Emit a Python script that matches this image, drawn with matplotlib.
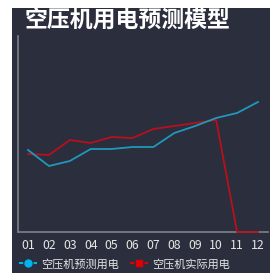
import matplotlib
matplotlib.use('Agg')
import matplotlib.pyplot as plt
from matplotlib.patches import Rectangle

plt.rcParams['font.family'] = ['Noto Sans CJK SC', 'DejaVu Sans']

MONTHS = ['01', '02', '03', '04', '05', '06', '07', '08', '09', '10', '11', '12']
PREDICTED = [820, 660, 710, 830, 830, 850, 850, 990, 1060, 1140, 1190, 1300]
ACTUAL = [780, 770, 920, 890, 950, 940, 1030, 1060, 1090, 1120, 0, 0]

TITLE = '空压机用电预测模型'
PRED_LABEL = '空压机预测用电'
ACTUAL_LABEL = '空压机实际用电'

BG = '#2b2e3c'
BLUE_LINE = '#1f98bb'
BLUE_MARK = '#00b4f0'
RED_LINE = '#b8101c'
RED_MARK = '#e00000'
TEXT = '#e6e6e6'
SPINE = '#7d7f88'

W, H = 270, 273
fig = plt.figure(figsize=(W / 100, H / 100), dpi=100, facecolor='white')

# dark panel, leaving a thin white strip on the left and top
panel = Rectangle((12 / W, 0), 1 - 12 / W, 1 - 8 / H,
                  transform=fig.transFigure, facecolor=BG,
                  edgecolor='none', zorder=-10)
fig.add_artist(panel)

ax = fig.add_axes([18 / W, (H - 232) / H, 250 / W, 196 / H])
ax.set_facecolor(BG)
ax.set_zorder(1)

x = list(range(len(MONTHS)))
ax.plot(x, ACTUAL, color=RED_LINE, linewidth=1.3, zorder=3, clip_on=False)
ax.plot(x, PREDICTED, color=BLUE_LINE, linewidth=1.3, zorder=4)

ax.set_xlim(-0.48, len(MONTHS) - 0.52)
ax.set_ylim(0, 1960)
ax.set_xticks(x, MONTHS)
ax.set_yticks([])
ax.tick_params(axis='x', length=0, pad=5, labelsize=8.8, colors=TEXT)

for side in ['top', 'right']:
    ax.spines[side].set_visible(False)
for side in ['left', 'bottom']:
    ax.spines[side].set_color(SPINE)
    ax.spines[side].set_linewidth(1.2)

fig.text(25 / W, (H - 21.5) / H, TITLE, color='white', fontsize=16.5,
         fontweight='bold', va='center', ha='left', zorder=5)

pred_handle = plt.Line2D([], [], color=BLUE_MARK, linestyle=(0, (2, 1.5)), linewidth=1.5,
                         marker='o', markersize=5, markerfacecolor=BLUE_MARK,
                         markeredgecolor=BLUE_MARK)
actual_handle = plt.Line2D([], [], color=RED_MARK, linestyle=(0, (2, 1.5)), linewidth=1.5,
                           marker='s', markersize=5, markerfacecolor=RED_MARK,
                           markeredgecolor=RED_MARK)
fig.legend([pred_handle, actual_handle], [PRED_LABEL, ACTUAL_LABEL],
           loc='center left', bbox_to_anchor=(19 / W, 9 / H), ncol=2,
           frameon=False, fontsize=8, labelcolor=TEXT, handlelength=1.6,
           handletextpad=0.4, columnspacing=1.0, borderaxespad=0,
           borderpad=0)

fig.savefig('out.png', dpi=100, facecolor='white')
